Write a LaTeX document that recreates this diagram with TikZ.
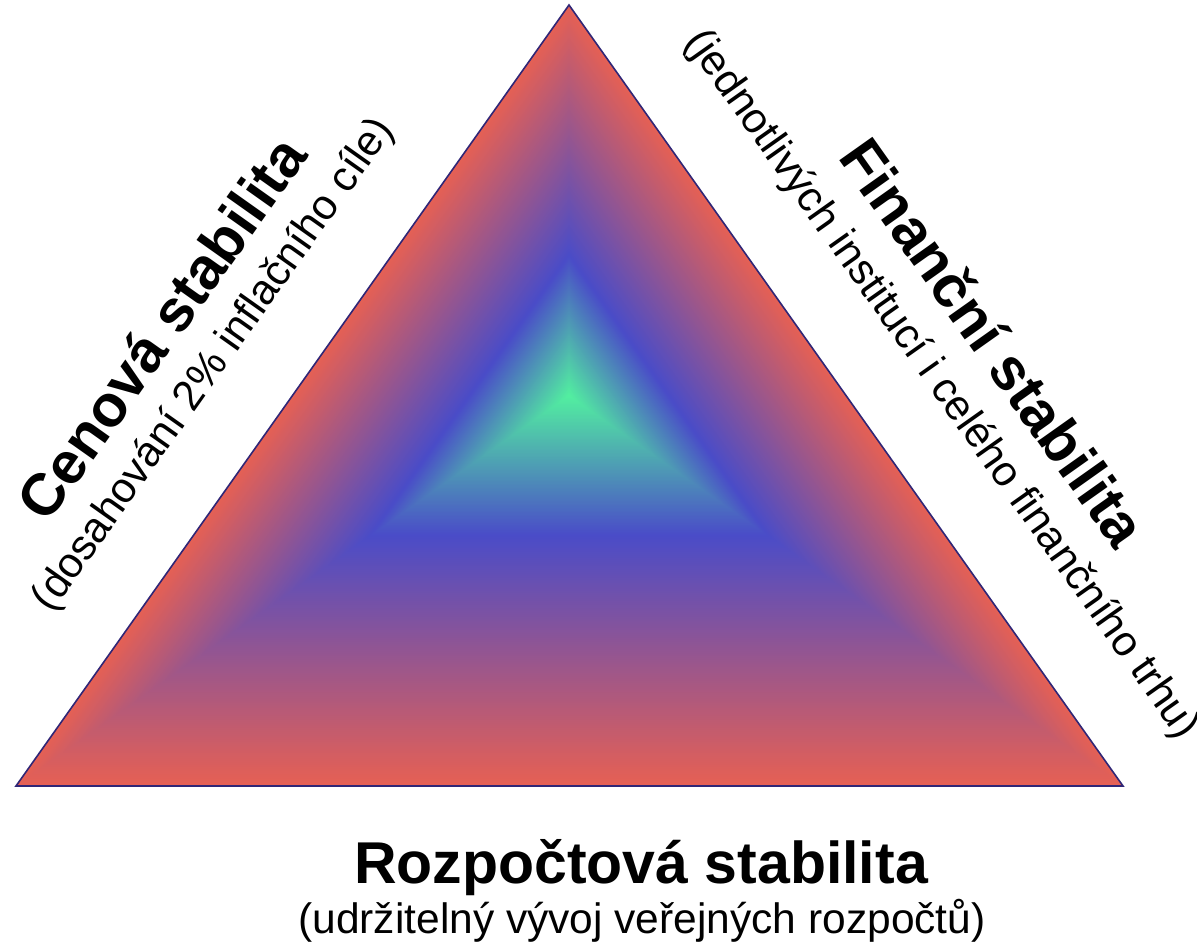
\documentclass[tikz,border=0pt]{standalone}
\usepackage{fontspec}
\setmainfont{Liberation Sans}
\usetikzlibrary{calc}
\definecolor{cred}{RGB}{230,96,84}
\definecolor{cblue}{RGB}{74,76,200}
\definecolor{cgreen}{RGB}{82,240,160}
\definecolor{cline}{RGB}{48,38,118}
\tikzset{
  titletext/.style={font=\bfseries\fontsize{59}{64}\selectfont, inner sep=0pt},
  subtext/.style={font=\fontsize{42.5}{48}\selectfont, inner sep=0pt},
  outline/.style={draw=cline, line width=1.6pt, line join=miter}
}
\begin{document}
\begin{tikzpicture}[x=1pt,y=-1pt]
\useasboundingbox (0,0) rectangle (1197,948);
\coordinate (C) at (569,395.5);
\coordinate (T) at (569,5);
\coordinate (L) at (16,786);
\coordinate (R) at (1123,786);
% outer band: red -> blue
\foreach \i in {0,...,127}{
  \pgfmathsetmacro{\s}{1-0.64*\i/128}
  \pgfmathsetmacro{\p}{\i/128*100}
  \fill[cblue!\p!cred] ($(C)!\s!(T)$) -- ($(C)!\s!(L)$) -- ($(C)!\s!(R)$) -- cycle;
}
% inner band: blue -> green
\foreach \i in {0,...,99}{
  \pgfmathsetmacro{\s}{0.36-0.36*\i/100}
  \pgfmathsetmacro{\p}{\i}
  \fill[cgreen!\p!cblue] ($(C)!\s!(T)$) -- ($(C)!\s!(L)$) -- ($(C)!\s!(R)$) -- cycle;
}
\draw[outline] (T) -- (L) -- (R) -- cycle;
\node[titletext, rotate=54.7] (cen) at (161,328) {Cenová stabilita};
\node[subtext, rotate=54.7] (cens) at (214,365) {(dosahování 2\% inflačního cíle)};
\node[titletext, rotate=-54.7] (fin) at (994,342) {Finanční stabilita};
\node[subtext, rotate=-54.7] (fins) at (941,385) {(jednotlivých institucí i celého finančního trhu)};
\node[titletext] (roz) at (641,868) {Rozpočtová stabilita};
\node[subtext] (rozs) at (642,921) {(udržitelný vývoj veřejných rozpočtů)};
\end{tikzpicture}
\end{document}
